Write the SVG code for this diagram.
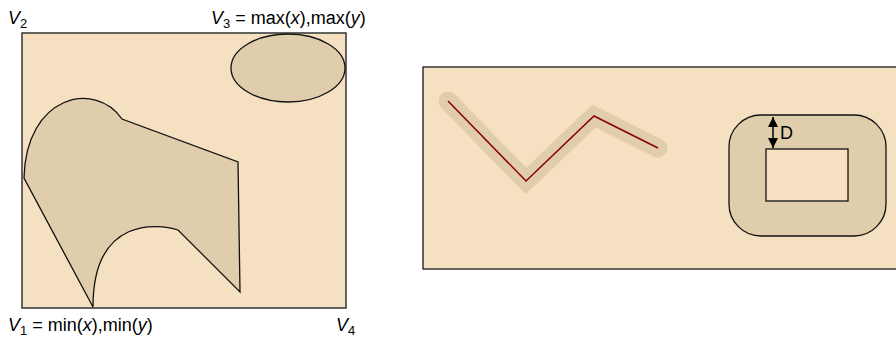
<svg xmlns="http://www.w3.org/2000/svg" width="896" height="338" viewBox="0 0 896 338">
<style>
.box{fill:#f5e1c1;stroke:#333;stroke-width:1.5}
.shape{fill:#e0cdab;stroke:#111;stroke-width:1.3}
.lbl{font-family:"Liberation Sans",Arial,sans-serif;font-size:18px;fill:#000}
.it{font-style:italic}
.sub{font-size:13px}
</style>
<defs>
<marker id="ah" viewBox="0 0 10 10" refX="10" refY="5" markerWidth="10" markerHeight="10" markerUnits="userSpaceOnUse" orient="auto-start-reverse">
<path d="M0,0 L10,5 L0,10 Z" fill="#000"/>
</marker>
</defs>
<g id="left-panel">
<rect class="box" x="22" y="33" width="324" height="275"/>
<ellipse id="ellipse" class="shape" cx="288" cy="68" rx="57" ry="34"/>
<path id="blob" class="shape" d="M24,178 C26,95 95,80 122,119 L238,162 L240,292 L178,230 C160,224 93,215 93,307 Z"/>
</g>
<g id="labels">
<text class="lbl" x="8" y="24"><tspan class="it">V</tspan><tspan class="sub" dy="4">2</tspan></text>
<text class="lbl" x="211" y="24"><tspan class="it">V</tspan><tspan class="sub" dy="4">3</tspan><tspan dy="-4"> = max(</tspan><tspan class="it">x</tspan><tspan>),max(</tspan><tspan class="it">y</tspan><tspan>)</tspan></text>
<text class="lbl" x="8" y="331"><tspan class="it">V</tspan><tspan class="sub" dy="4">1</tspan><tspan dy="-4"> = min(</tspan><tspan class="it">x</tspan><tspan>),min(</tspan><tspan class="it">y</tspan><tspan>)</tspan></text>
<text class="lbl" x="336" y="331"><tspan class="it">V</tspan><tspan class="sub" dy="4">4</tspan></text>
</g>
<g id="right-panel">
<rect class="box" x="423" y="67" width="490" height="202"/>
<polyline id="halo" points="448,101 526,181 594,116 658,148" fill="none" stroke="#e0cdab" stroke-width="19" stroke-linecap="round" stroke-linejoin="miter"/>
<polyline id="path-line" points="448,101 526,181 594,116 658,148" fill="none" stroke="#8b0000" stroke-width="1.5"/>
<rect id="buffer" class="shape" x="729" y="115" width="157" height="121" rx="32" ry="32"/>
<rect id="inner" x="766" y="149" width="82" height="52" fill="#f5e1c1" stroke="#111" stroke-width="1.3"/>
</g>
<g id="connectors">
<line x1="773" y1="126" x2="773" y2="139" stroke="#000" stroke-width="1.5"/>
<line x1="773" y1="126" x2="773" y2="117" stroke="#000" stroke-width="1.5" marker-end="url(#ah)"/>
<line x1="773" y1="139" x2="773" y2="148" stroke="#000" stroke-width="1.5" marker-end="url(#ah)"/>
<text class="lbl" x="780" y="139" font-size="17">D</text>
</g>
</svg>
